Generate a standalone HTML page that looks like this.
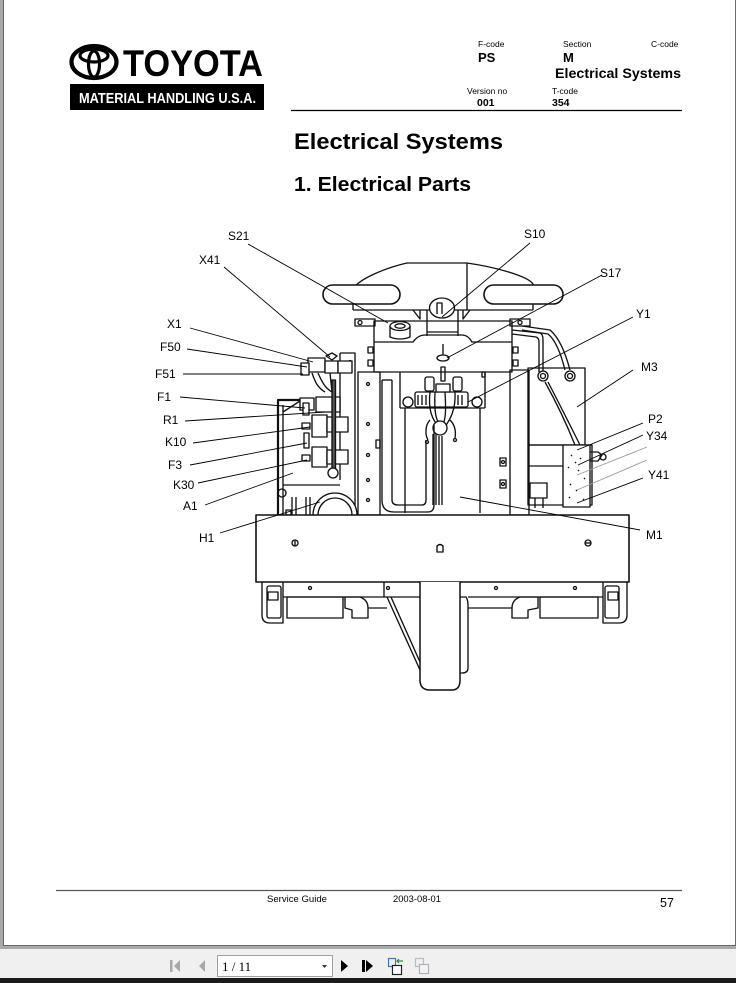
<!DOCTYPE html>
<html><head><meta charset="utf-8"><style>
html,body{margin:0;padding:0;background:#fff;}
body{width:736px;height:983px;overflow:hidden;position:relative;font-family:"Liberation Sans",Arial,sans-serif;}
svg{position:absolute;left:0;top:0;}
</style></head><body>
<svg width="736" height="983" viewBox="0 0 736 983" xmlns="http://www.w3.org/2000/svg" font-family="Liberation Sans, Arial, sans-serif">
<!-- page frame -->
<rect x="0" y="0" width="736" height="983" fill="#a9a9a9"/>
<rect x="4" y="0" width="731" height="945" fill="#fff"/>
<line x1="3.5" y1="0" x2="3.5" y2="945.5" stroke="#6a6a6a" stroke-width="1"/>
<line x1="735.5" y1="0" x2="735.5" y2="945.5" stroke="#6a6a6a" stroke-width="1"/>
<line x1="3" y1="945.5" x2="736" y2="945.5" stroke="#6a6a6a" stroke-width="1"/>
<rect x="0" y="949" width="736" height="29" fill="#f0f0f0"/>
<rect x="0" y="978" width="736" height="5" fill="#1b1b1b"/>

<!-- Toyota logo -->
<ellipse cx="94" cy="62" rx="22.5" ry="16" fill="none" stroke="#000" stroke-width="4.2"/>
<ellipse cx="94" cy="55.5" rx="14" ry="6.5" fill="none" stroke="#000" stroke-width="3.2"/>
<ellipse cx="94" cy="64" rx="5.5" ry="13" fill="none" stroke="#000" stroke-width="3.2"/>
<text x="123" y="76" font-size="37" font-weight="bold" textLength="140" lengthAdjust="spacingAndGlyphs">TOYOTA</text>
<rect x="70" y="84" width="194" height="26" fill="#000"/>
<text x="79" y="103" font-size="15" font-weight="bold" fill="#fff" textLength="177" lengthAdjust="spacingAndGlyphs">MATERIAL HANDLING U.S.A.</text>

<!-- header right -->
<text x="478" y="47" font-size="8.5">F-code</text>
<text x="478" y="62" font-size="13" font-weight="bold">PS</text>
<text x="563" y="47" font-size="8.5">Section</text>
<text x="563" y="62" font-size="13" font-weight="bold">M</text>
<text x="651" y="47" font-size="8.5">C-code</text>
<text x="555" y="78" font-size="14" font-weight="bold" textLength="126" lengthAdjust="spacingAndGlyphs">Electrical Systems</text>
<text x="467" y="94" font-size="8.5">Version no</text>
<text x="477" y="106" font-size="10.5" font-weight="bold">001</text>
<text x="552" y="94" font-size="8.5">T-code</text>
<text x="552" y="106" font-size="10.5" font-weight="bold">354</text>
<line x1="291" y1="110.5" x2="682" y2="110.5" stroke="#000" stroke-width="1.3"/>

<!-- titles -->
<text x="294" y="149" font-size="22.5" font-weight="bold" textLength="209" lengthAdjust="spacingAndGlyphs">Electrical Systems</text>
<text x="294" y="191" font-size="20.5" font-weight="bold" textLength="177" lengthAdjust="spacingAndGlyphs">1. Electrical Parts</text>

<!-- DIAGRAM -->
<g fill="none" stroke="#111" stroke-width="1.35" stroke-linejoin="round">
  <!-- seat dome -->
  <path d="M353,310 L353,290 C356,280 385,268 407,263 L467,263 C495,267 528,276 533,284 L533,310" fill="#fff"/>
  <line x1="467" y1="263" x2="467" y2="310"/>
  <line x1="353" y1="310" x2="533" y2="310"/>
  <!-- handles -->
  <rect x="323" y="285" width="77" height="19" rx="9.5" fill="#fff" stroke-width="1.6"/>
  <rect x="484" y="285" width="79" height="19" rx="9.5" fill="#fff" stroke-width="1.6"/>
  <!-- gussets -->
  <path d="M413,310 L420,319 L420,310 M470,310 L463,319 L463,310"/>
  <line x1="427" y1="310" x2="427" y2="336"/>
  <line x1="458" y1="310" x2="458" y2="336"/>
  <line x1="427" y1="332" x2="458" y2="332"/>
  <!-- S10 -->
  <ellipse cx="442" cy="308" rx="12.5" ry="10" fill="#fff"/>
  <path d="M437,314 L437,303 L442,303 L442,314"/>
  <!-- side brackets -->
  <rect x="355" y="319" width="20" height="7" fill="#fff"/>
  <rect x="510" y="319" width="20" height="7" fill="#fff"/>
  <circle cx="360" cy="322.5" r="2"/><circle cx="520" cy="322.5" r="2"/>
  <!-- top box -->
  <rect x="374" y="321" width="138" height="51" fill="none"/>
  <path d="M374,342 L413,342 Q418,335 425,335 L462,335 Q468,335 472,342 L512,342"/>
  <rect x="368" y="347" width="5" height="6"/><rect x="368" y="360" width="5" height="6"/>
  <rect x="513" y="347" width="5" height="6"/><rect x="513" y="360" width="5" height="6"/>
  <!-- S21 button -->
  <path d="M390,326 L390,337 Q400,341 410,337 L410,326"/>
  <ellipse cx="400" cy="326" rx="10" ry="4.5" fill="#fff"/>
  <ellipse cx="400" cy="326" rx="5" ry="2.2"/>
  <!-- S17 -->
  <line x1="443" y1="344" x2="443" y2="357"/>
  <ellipse cx="443" cy="358" rx="6" ry="3" fill="#fff"/>
  <rect x="441" y="367" width="4" height="14"/>
  <!-- motor top -->
  <line x1="400" y1="372" x2="400" y2="408"/>
  <line x1="485" y1="372" x2="485" y2="408"/>
  <line x1="400" y1="408" x2="485" y2="408"/>
  <rect x="482" y="372" width="3" height="5"/>
  <rect x="415" y="392" width="53" height="15" rx="2" fill="#fff"/>
  <path d="M418,395 L418,405 M422,395 L422,405 M426,395 L426,405 M458,395 L458,405 M462,395 L462,405"/>
  <circle cx="408" cy="402" r="5"/><circle cx="477" cy="402" r="5"/>
  <rect x="425" y="377" width="9" height="14" rx="2" fill="#fff"/>
  <rect x="453" y="377" width="9" height="14" rx="2" fill="#fff"/>
  <rect x="436" y="384" width="14" height="8" fill="#fff"/>
  <!-- cables -->
  <path d="M430,392 C428,410 432,420 440,428 M435,392 C434,412 436,420 440,425 M445,392 C446,410 446,420 442,426 M455,392 C456,410 450,420 444,428 M430,420 C425,425 425,435 428,440 M450,420 C455,425 456,432 455,438"/>
  <circle cx="440" cy="428" r="7" fill="#fff"/>
  <circle cx="427" cy="442" r="1.5"/><circle cx="455" cy="440" r="1.5"/>
  <!-- motor body -->
  <line x1="405" y1="408" x2="405" y2="513"/>
  <line x1="480" y1="408" x2="480" y2="513"/>
  <path d="M433,434 L433,505 M436,434 L436,505 M439,436 L439,505 M442,436 L442,505"/>
  <!-- U pipe -->
  <path d="M382,380 L382,500 Q382,512 394,512 L428,512 Q434,512 434,505 L434,425"/>
  <path d="M392,380 L392,500 Q392,505 398,505 L422,505 Q426,505 426,500 L426,440"/>
  <line x1="382" y1="380" x2="392" y2="380"/>
  <!-- left panel -->
  <rect x="358" y="372" width="22" height="143" fill="none"/>
  <circle cx="368" cy="384" r="1.5"/><circle cx="368" cy="424" r="1.5"/><circle cx="368" cy="455" r="1.5"/><circle cx="368" cy="480" r="1.5"/><circle cx="368" cy="500" r="1.5"/>
  <rect x="376" y="440" width="4" height="8"/>
  <!-- right panel -->
  <rect x="510" y="370" width="19" height="145" fill="none"/>
  <rect x="500" y="458" width="6" height="8"/><rect x="500" y="480" width="6" height="8"/>
  <circle cx="503" cy="462" r="1.5"/><circle cx="503" cy="484" r="1.5"/>
  <!-- M3 box -->
  <rect x="528" y="368" width="57" height="77" fill="none"/>
  <rect x="528" y="445" width="64" height="60" fill="none"/>
  <line x1="528" y1="466" x2="563" y2="466"/>
  <rect x="530" y="483" width="17" height="15"/>
  <line x1="535" y1="498" x2="535" y2="508"/><line x1="543" y1="498" x2="543" y2="508"/>
  <!-- P2 -->
  <rect x="563" y="445" width="27" height="62" fill="#fff"/>
  <path d="M571,455 l1,1 M580,458 l1,1 M568,467 l1,1 M578,470 l1,1 M584,478 l1,1 M570,484 l1,1 M576,490 l1,1 M569,497 l1,1 M583,499 l1,1 M575,462 l1,1"/>
  <path d="M590,452 L598,452 L602,455 L598,461 L590,461"/>
  <circle cx="603" cy="457" r="3"/>
  <!-- top right pipes -->
  <path d="M512,330 L540,333 Q543,334 543,340 L543,372"/>
  <path d="M512,334 L536,337 Q539,338 539,342 L539,372"/>
  <path d="M522,326 L550,330 Q562,340 570,370"/>
  <path d="M522,330 L548,334 Q558,342 565,370"/>
  <circle cx="543" cy="376" r="5" fill="#fff"/><circle cx="543" cy="376" r="2.5"/>
  <circle cx="570" cy="376" r="5" fill="#fff"/><circle cx="570" cy="376" r="2.5"/>
  <path d="M545,382 C555,400 565,420 575,445 M548,382 C560,405 570,425 580,445"/>
  <!-- left housing -->
  <path d="M278,515 L278,400 L312,400" stroke-width="2.2"/>
  <line x1="283" y1="412" x2="300" y2="401"/>
  <line x1="283" y1="405" x2="283" y2="515"/>
  <!-- vertical plate -->
  <path d="M340,353 L355,353 L355,515 M340,353 L340,480"/>
  <circle cx="350" cy="362" r="1.5"/>
  <!-- connector blocks -->
  <rect x="308" y="358" width="17" height="14" fill="#fff"/>
  <rect x="325" y="361" width="13" height="12" fill="#fff"/>
  <rect x="338" y="361" width="14" height="12" fill="#fff"/>
  <path d="M326,356 L332,353 L337,356 L332,360 Z" fill="#fff"/>
  <rect x="301" y="363" width="8" height="12" fill="#fff"/>
  <path d="M312,373 C315,382 318,388 325,392 M318,373 C322,382 325,388 332,392 M330,373 L332,392"/>
  <rect x="300" y="398" width="14" height="12" fill="#fff"/>
  <rect x="316" y="397" width="24" height="15" fill="#fff"/>
  <!-- fuses & relays -->
  <rect x="303" y="403" width="6" height="12" fill="#fff"/>
  <rect x="312" y="415" width="15" height="22" fill="#fff"/>
  <rect x="327" y="417" width="21" height="15" fill="#fff"/>
  <rect x="302" y="423" width="8" height="6"/>
  <rect x="304" y="433" width="5" height="15" fill="#fff"/>
  <rect x="312" y="447" width="15" height="20" fill="#fff"/>
  <rect x="327" y="450" width="21" height="14" fill="#fff"/>
  <rect x="302" y="455" width="8" height="6"/>
  <rect x="332" y="380" width="3.5" height="90" fill="#555"/>
  <circle cx="333" cy="473" r="5" fill="#fff"/>
  <circle cx="282" cy="493" r="4"/>
  <line x1="283" y1="485" x2="340" y2="485"/>
  <!-- H1 circle -->
  <path d="M313,515 A22,22 0 1,1 357,515" fill="#fff"/>
  <path d="M318,515 A17,17 0 1,1 352,515"/>
  <path d="M292,515 L292,497 M296,515 L296,497 M306,515 L306,497 M310,515 L310,497"/>
  <rect x="286" y="510" width="5" height="5"/>
  <!-- chassis -->
  <rect x="256" y="515" width="373" height="67" fill="#fff" stroke-width="1.6"/>
  <circle cx="295" cy="543" r="3"/><line x1="295" y1="540" x2="295" y2="546"/>
  <path d="M437,552 L437,546 Q440,543 443,546 L443,552 Z"/>
  <circle cx="588" cy="543" r="3"/><line x1="585" y1="543" x2="591" y2="543"/>
  <!-- under chassis -->
  <path d="M262,582 L262,615 Q262,623 270,623 L283,623 L283,582"/>
  <rect x="267" y="586" width="14" height="32" rx="2"/>
  <rect x="268" y="592" width="10" height="8"/>
  <path d="M603,582 L603,623 L619,623 Q627,623 627,615 L627,582"/>
  <rect x="605" y="586" width="14" height="32" rx="2"/>
  <rect x="608" y="592" width="10" height="8"/>
  <line x1="283" y1="597" x2="420" y2="597"/>
  <line x1="468" y1="597" x2="603" y2="597"/>
  <rect x="287" y="597" width="56" height="21"/>
  <path d="M345,597 L360,597 Q368,600 368,608 L368,618 L352,618 L352,610 L345,608 Z"/>
  <rect x="540" y="597" width="58" height="21"/>
  <path d="M538,597 L520,597 Q512,600 512,608 L512,618 L528,618 L528,610 L538,608 Z"/>
  <line x1="368" y1="608" x2="387" y2="608"/>
  <line x1="468" y1="608" x2="512" y2="608"/>
  <line x1="384" y1="582" x2="384" y2="597"/>
  <circle cx="310" cy="588" r="1.5"/><circle cx="388" cy="588" r="1.5"/><circle cx="496" cy="588" r="1.5"/><circle cx="575" cy="588" r="1.5"/>
  <!-- drive wheel -->
  <path d="M387,597 L420,670 M391,597 L420,662"/>
  <path d="M420,582 L420,680 Q420,690 430,690 L452,690 Q460,690 460,680 L460,582" fill="#fff" stroke-width="1.5"/>
  <path d="M460,597 L466,597 Q468,600 468,605 L468,668 Q468,673 462,673 L460,673"/>
</g>

<!-- leader lines -->
<g stroke="#000" stroke-width="0.9">
  <line x1="248" y1="244" x2="388" y2="323"/>
  <line x1="224" y1="267" x2="330" y2="357"/>
  <line x1="190" y1="328" x2="313" y2="362"/>
  <line x1="187" y1="349" x2="307" y2="367"/>
  <line x1="183" y1="374" x2="303" y2="374"/>
  <line x1="180" y1="397" x2="305" y2="408"/>
  <line x1="185" y1="421" x2="325" y2="412"/>
  <line x1="193" y1="443" x2="310" y2="427"/>
  <line x1="190" y1="465" x2="307" y2="443"/>
  <line x1="198" y1="483" x2="307" y2="460"/>
  <line x1="205" y1="505" x2="293" y2="473"/>
  <line x1="220" y1="533" x2="320" y2="502"/>
  <line x1="530" y1="243" x2="442" y2="317"/>
  <line x1="602" y1="275" x2="447" y2="358"/>
  <line x1="633" y1="317" x2="468" y2="402"/>
  <line x1="633" y1="370" x2="577" y2="407"/>
  <line x1="643" y1="423" x2="577" y2="450"/>
  <line x1="643" y1="435" x2="578" y2="465"/>
  <line x1="647" y1="447" x2="577" y2="475" stroke="#999"/>
  <line x1="647" y1="460" x2="577" y2="490" stroke="#999"/>
  <line x1="643" y1="478" x2="577" y2="503"/>
  <line x1="640" y1="530" x2="460" y2="497"/>
</g>

<!-- labels -->
<g font-size="12" fill="#000">
  <text x="228" y="240">S21</text>
  <text x="199" y="264">X41</text>
  <text x="167" y="328">X1</text>
  <text x="160" y="351">F50</text>
  <text x="155" y="378">F51</text>
  <text x="157" y="401">F1</text>
  <text x="163" y="424">R1</text>
  <text x="165" y="446">K10</text>
  <text x="168" y="469">F3</text>
  <text x="173" y="489">K30</text>
  <text x="183" y="510">A1</text>
  <text x="199" y="542">H1</text>
  <text x="524" y="238">S10</text>
  <text x="600" y="277">S17</text>
  <text x="636" y="318">Y1</text>
  <text x="641" y="371">M3</text>
  <text x="648" y="423">P2</text>
  <text x="646" y="440">Y34</text>
  <text x="648" y="479">Y41</text>
  <text x="646" y="539">M1</text>
</g>

<!-- footer -->
<line x1="56" y1="890.5" x2="682" y2="890.5" stroke="#555" stroke-width="1.2"/>
<text x="267" y="902" font-size="9.5" textLength="60" lengthAdjust="spacingAndGlyphs">Service Guide</text>
<text x="393" y="902" font-size="9.5" textLength="48" lengthAdjust="spacingAndGlyphs">2003-08-01</text>
<text x="660" y="907" font-size="12.5">57</text>

<!-- toolbar -->
<g fill="#a8a8a8">
  <rect x="170" y="960" width="2.5" height="12"/>
  <polygon points="180,960 174,966 180,972"/>
  <polygon points="205,960 199,966 205,972"/>
</g>
<rect x="217.5" y="955.5" width="115" height="21" fill="#fff" stroke="#a0a0a0"/>
<text x="222" y="971" font-size="13" font-family="Liberation Serif, serif">1 / 11</text>
<polygon points="322,965 327,965 324.5,968" fill="#333"/>
<polygon points="341,960 348,966 341,972" fill="#000"/>
<rect x="362" y="960" width="3" height="12" fill="#000"/>
<polygon points="366,960 373,966 366,972" fill="#000"/>
<g fill="none" stroke-width="1.2">
  <rect x="388.5" y="958.5" width="7" height="8" stroke="#3a78c0"/>
  <rect x="392.5" y="965.5" width="9" height="9" stroke="#222" fill="#fff"/>
  <path d="M403,961 L397,961 M399,959 L397,961 L399,963" stroke="#3a8a3a"/>
  <rect x="415.5" y="958.5" width="8" height="8" stroke="#a9bfd6"/>
  <rect x="419.5" y="964.5" width="9" height="9" stroke="#b0b0b0" fill="#f4f4f4"/>
</g>
</svg>
</body></html>
